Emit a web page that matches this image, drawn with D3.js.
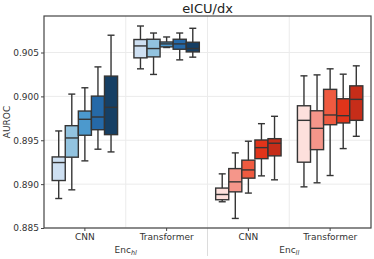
<!DOCTYPE html>
<html>
<head>
<meta charset="utf-8">
<script src="https://cdn.jsdelivr.net/npm/d3@7"></script>
<style>
  body { margin: 0; background: #fff; }
  svg { font-family: "DejaVu Sans", sans-serif; }
</style>
</head>
<body>
<svg></svg>
<script>
var width = 374;
var height = 259;
var margin = {top: 16, right: 3, bottom: 31, left: 44};

// categories along x
var groups = ["hl-CNN", "hl-Transformer", "ll-CNN", "ll-Transformer"];
var groupLabels = ["CNN", "Transformer", "CNN", "Transformer"];
var hues = [0, 1, 2, 3, 4];
var encoders = ["hl", "ll"];

// box stats per group: [lower whisker, q1, median, q3, upper whisker]
var hlCnn = [
  [0.88836, 0.89041, 0.89246, 0.89310, 0.89606],
  [0.88935, 0.89307, 0.89526, 0.89666, 0.90026],
  [0.89265, 0.89557, 0.89739, 0.89833, 0.90098],
  [0.89398, 0.89620, 0.89765, 0.90003, 0.90336],
  [0.89367, 0.89564, 0.89875, 0.90231, 0.90697]
];
var hlTransformer = [
  [0.90314, 0.90439, 0.90575, 0.90648, 0.90802],
  [0.90250, 0.90450, 0.90545, 0.90651, 0.90722],
  [0.90557, 0.90564, 0.90598, 0.90620, 0.90677],
  [0.90416, 0.90537, 0.90598, 0.90651, 0.90722],
  [0.90447, 0.90507, 0.90545, 0.90617, 0.90776]
];
var llCnn = [
  [0.88799, 0.88822, 0.88882, 0.88955, 0.89117],
  [0.88609, 0.88912, 0.89026, 0.89177, 0.89356],
  [0.88898, 0.89068, 0.89162, 0.89273, 0.89489],
  [0.89094, 0.89290, 0.89416, 0.89503, 0.89689],
  [0.89049, 0.89322, 0.89466, 0.89518, 0.89773]
];
var llTransformer = [
  [0.88969, 0.89250, 0.89727, 0.89893, 0.90234],
  [0.89015, 0.89393, 0.89636, 0.89836, 0.90245],
  [0.89098, 0.89677, 0.89788, 0.90080, 0.90314],
  [0.89405, 0.89697, 0.89780, 0.89973, 0.90253],
  [0.89545, 0.89727, 0.89966, 0.90120, 0.90348]
];
var yTicks = [0.885, 0.890, 0.895, 0.900, 0.905];

var blues = ["#cee0f2", "#92c3df", "#4c99cd", "#2569a8", "#163f64"];
var reds = ["#fde0dc", "#f5968a", "#ef5a40", "#e1341a", "#c62d19"];

var allStats = [hlCnn, hlTransformer, llCnn, llTransformer];
var boxes = [];
allStats.forEach(function(g, gi) {
  g.forEach(function(s, hi) {
    boxes.push({group: groups[gi], hue: hi, enc: gi < 2 ? "hl" : "ll",
                lo: s[0], q1: s[1], med: s[2], q3: s[3], hi: s[4]});
  });
});

var svg = d3.select("svg").attr("width", width).attr("height", height);

var x = d3.scaleBand().domain(groups)
          .range([margin.left, width - margin.right]);
var xHue = d3.scaleBand().domain(hues)
          .range([0, x.bandwidth() * 0.8]);
var y = d3.scaleLinear().domain([0.885, 0.90916])
          .range([height - margin.bottom, margin.top]);

// grid
var grid = svg.append("g");
grid.selectAll(".hg").data(yTicks).enter().append("line")
    .attr("x1", margin.left).attr("x2", width - margin.right)
    .attr("y1", function(d) { return y(d); }).attr("y2", function(d) { return y(d); })
    .attr("stroke", "#ebebeb").attr("stroke-width", 1);
grid.selectAll(".vg").data(groups.slice(1)).enter().append("line")
    .attr("x1", function(d) { return x(d); }).attr("x2", function(d) { return x(d); })
    .attr("y1", margin.top).attr("y2", height - margin.bottom)
    .attr("stroke", "#ebebeb").attr("stroke-width", 1);

// separator between encoders
svg.append("line")
   .attr("x1", x(groups[2])).attr("x2", x(groups[2]))
   .attr("y1", height - margin.bottom).attr("y2", height - 3)
   .attr("stroke", "#dcdcdc").attr("stroke-width", 1);

// boxes
var edge = "#353535";
var bx = svg.append("g").selectAll("g").data(boxes).enter().append("g")
    .attr("transform", function(d) {
      return "translate(" + (x(d.group) + x.bandwidth() * 0.1 + xHue(d.hue)) + ",0)";
    });
var bw = xHue.bandwidth();
bx.append("line")
  .attr("x1", bw / 2).attr("x2", bw / 2)
  .attr("y1", function(d) { return y(d.hi); }).attr("y2", function(d) { return y(d.lo); })
  .attr("stroke", edge).attr("stroke-width", 1.4);
bx.selectAll(".cap").data(function(d) { return [d.lo, d.hi]; }).enter().append("line")
  .attr("x1", bw / 2 - 3.5).attr("x2", bw / 2 + 3.5)
  .attr("y1", function(v) { return y(v); }).attr("y2", function(v) { return y(v); })
  .attr("stroke", edge).attr("stroke-width", 1.4);
bx.append("rect")
  .attr("x", 0).attr("width", bw)
  .attr("y", function(d) { return y(d.q3); })
  .attr("height", function(d) { return y(d.q1) - y(d.q3); })
  .attr("fill", function(d) { return d.enc === "hl" ? blues[d.hue] : reds[d.hue]; })
  .attr("stroke", edge).attr("stroke-width", 1.4);
bx.append("line")
  .attr("x1", 0).attr("x2", bw)
  .attr("y1", function(d) { return y(d.med); }).attr("y2", function(d) { return y(d.med); })
  .attr("stroke", edge).attr("stroke-width", 1.4);

// frame
svg.append("rect")
   .attr("x", margin.left).attr("y", margin.top)
   .attr("width", width - margin.left - margin.right)
   .attr("height", height - margin.top - margin.bottom)
   .attr("fill", "none").attr("stroke", "#444").attr("stroke-width", 1.2);

// axes
var yAxis = svg.append("g")
   .attr("transform", "translate(" + margin.left + ",0)")
   .call(d3.axisLeft(y).tickValues(yTicks).tickFormat(d3.format(".3f")).tickSize(3).tickPadding(2));
var xAxis = svg.append("g")
   .attr("transform", "translate(0," + (height - margin.bottom) + ")")
   .call(d3.axisBottom(x).tickFormat(function(d, i) { return groupLabels[i]; }).tickSize(3).tickPadding(3));
[yAxis, xAxis].forEach(function(a) {
  a.select(".domain").remove();
  a.selectAll("line").attr("stroke", "#444");
  a.selectAll("text").attr("fill", "#333").attr("font-size", 9)
   .attr("font-family", "DejaVu Sans, sans-serif");
});

// encoder labels
var encText = svg.append("g").selectAll("text").data(encoders).enter().append("text")
   .attr("x", function(d, i) { return (x(groups[i * 2]) + x(groups[i * 2 + 1]) + x.bandwidth()) / 2; })
   .attr("y", 253)
   .attr("text-anchor", "middle")
   .attr("font-size", 9).attr("fill", "#333");
encText.append("tspan").text("Enc");
encText.append("tspan").attr("font-size", 6.5).attr("font-style", "italic")
   .attr("dy", 2).text(function(d) { return d; });

// y label
svg.append("text")
   .attr("transform", "translate(10," + ((margin.top + height - margin.bottom) / 2) + ") rotate(-90)")
   .attr("text-anchor", "middle")
   .attr("font-size", 9).attr("fill", "#333")
   .text("AUROC");

// title
svg.append("text")
   .attr("x", (margin.left + width - margin.right) / 2).attr("y", 12.5)
   .attr("text-anchor", "middle")
   .attr("font-size", 13).attr("fill", "#222")
   .text("eICU/dx");
</script>
</body>
</html>
